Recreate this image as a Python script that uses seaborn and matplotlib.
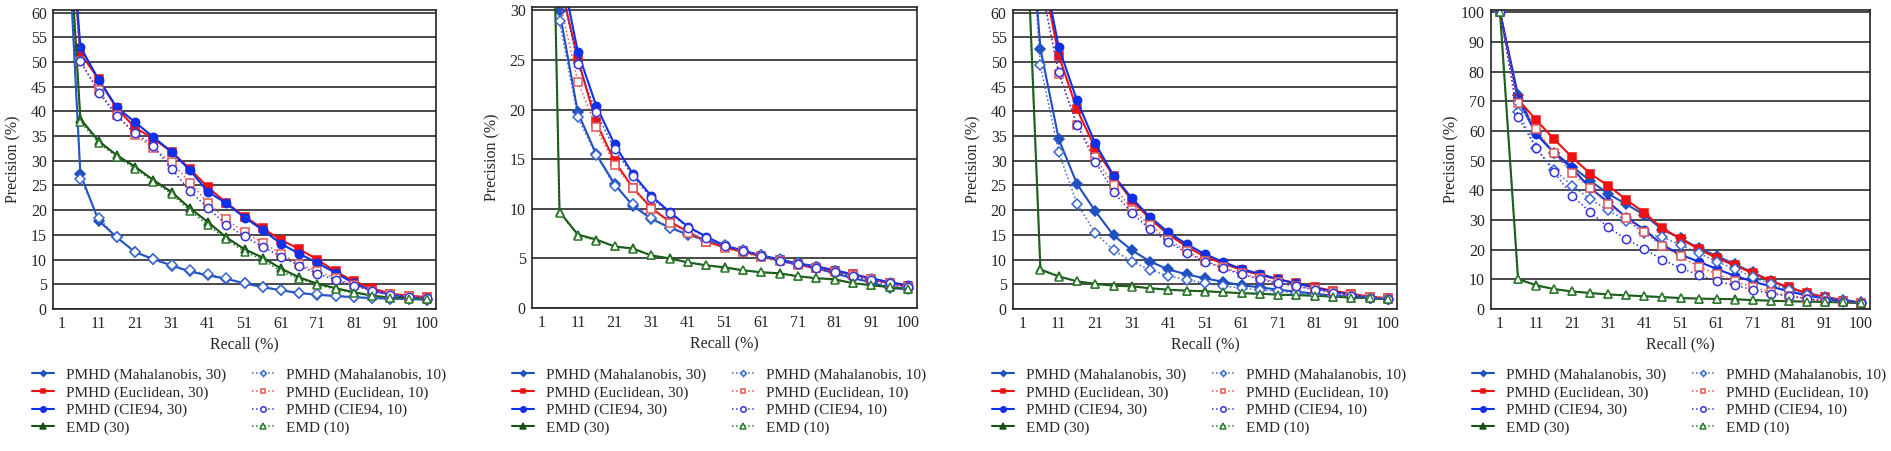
import numpy as np
import matplotlib
matplotlib.use("Agg")
import matplotlib.pyplot as plt
import seaborn as sns

sns.set_style("white")
plt.rcParams["font.family"] = ["Liberation Serif", "DejaVu Serif"]

# recall categories on the x axis (Excel-style category axis)
recall = [1, 6, 11, 16, 21, 26, 31, 36, 41, 46, 51, 56, 61, 66, 71, 76, 81, 86, 91, 96, 100]

series_names = ["PMHD (Mahalanobis, 30)", "PMHD (Euclidean, 30)", "PMHD (CIE94, 30)", "EMD (30)",
                "PMHD (Mahalanobis, 10)", "PMHD (Euclidean, 10)", "PMHD (CIE94, 10)", "EMD (10)"]

# panel 1
p1_maha30 = [100, 27.3, 17.9, 14.5, 11.5, 10.1, 8.8, 7.6, 6.8, 6.1, 5.2, 4.4, 3.8, 3.2, 2.9, 2.6, 2.4, 2.2, 2.1, 2.0, 1.9]
p1_eucl30 = [100, 51.8, 46.5, 40.6, 36.7, 34.5, 31.8, 28.4, 24.6, 21.5, 18.7, 16.3, 14.0, 12.1, 10.0, 7.6, 5.6, 4.2, 3.1, 2.7, 2.4]
p1_cie30 = [100, 53.1, 46.4, 40.8, 37.8, 34.8, 31.8, 28.1, 23.7, 21.4, 18.5, 16.0, 13.2, 11.2, 9.3, 7.3, 5.2, 3.7, 2.9, 2.4, 2.1]
p1_emd30 = [100, 38.5, 34.0, 31.1, 28.8, 26.1, 23.7, 20.4, 17.6, 14.5, 12.1, 10.4, 8.2, 6.4, 5.1, 4.2, 3.4, 2.7, 2.3, 2.2, 2.0]
p1_maha10 = [100, 26.4, 18.4, 14.5, 11.6, 10.2, 8.9, 7.8, 7.0, 6.3, 5.2, 4.5, 3.8, 3.3, 3.0, 2.7, 2.4, 2.2, 2.1, 2.0, 1.9]
p1_eucl10 = [100, 50.1, 44.3, 39.2, 35.3, 32.5, 29.7, 25.6, 21.5, 18.2, 15.5, 13.4, 11.2, 9.1, 7.6, 6.3, 4.8, 3.7, 3.0, 2.6, 2.3]
p1_cie10 = [100, 50.2, 43.8, 39.1, 35.7, 33.0, 28.4, 23.9, 20.4, 17.1, 14.7, 12.6, 10.6, 8.8, 7.1, 5.9, 4.7, 3.7, 2.9, 2.4, 2.2]
p1_emd10 = [100, 37.9, 33.6, 30.8, 28.4, 25.8, 23.3, 19.9, 17.0, 14.1, 11.6, 10.0, 7.6, 6.1, 4.9, 4.0, 3.2, 2.7, 2.3, 2.1, 2.0]

# panel 2
p2_maha30 = [100, 29.9, 19.7, 15.5, 12.5, 10.3, 9.0, 8.1, 7.4, 6.8, 6.2, 5.7, 5.3, 4.8, 4.4, 4.0, 3.5, 3.0, 2.6, 2.0, 1.9]
p2_eucl30 = [100, 33.0, 25.1, 18.7, 14.8, 12.1, 10.1, 8.7, 7.7, 6.7, 6.1, 5.7, 5.2, 4.8, 4.4, 4.0, 3.7, 3.4, 2.9, 2.5, 2.2]
p2_cie30 = [100, 35.0, 25.8, 20.4, 16.5, 13.5, 11.3, 9.7, 8.2, 7.2, 6.3, 5.8, 5.3, 4.9, 4.5, 4.2, 3.8, 3.4, 3.0, 2.6, 2.3]
p2_emd30 = [100, 9.7, 7.4, 6.9, 6.2, 6.0, 5.3, 5.0, 4.6, 4.3, 4.1, 3.8, 3.6, 3.5, 3.2, 3.0, 2.9, 2.5, 2.3, 2.1, 1.95]
p2_maha10 = [100, 28.9, 19.2, 15.4, 12.3, 10.5, 9.1, 8.1, 7.5, 6.9, 6.3, 5.8, 5.3, 4.9, 4.5, 4.1, 3.7, 3.2, 2.7, 2.3, 2.0]
p2_eucl10 = [100, 31.0, 22.8, 18.2, 14.4, 12.1, 10.0, 8.6, 7.6, 6.7, 6.0, 5.6, 5.1, 4.7, 4.3, 4.0, 3.6, 3.3, 2.9, 2.5, 2.1]
p2_cie10 = [100, 33.0, 24.6, 19.7, 16.0, 13.3, 11.1, 9.6, 8.1, 7.1, 6.2, 5.7, 5.2, 4.7, 4.4, 4.0, 3.6, 3.2, 2.8, 2.5, 2.1]
p2_emd10 = [100, 9.6, 7.3, 6.8, 6.2, 5.9, 5.3, 4.9, 4.6, 4.3, 4.0, 3.8, 3.6, 3.4, 3.2, 3.0, 2.8, 2.5, 2.3, 2.1, 1.9]

# panel 3
p3_maha30 = [100, 52.7, 34.4, 25.3, 19.8, 14.9, 11.9, 9.6, 8.0, 7.0, 6.2, 5.5, 4.8, 4.4, 3.9, 3.5, 3.1, 2.7, 2.5, 2.2, 2.0]
p3_eucl30 = [100, 70.0, 51.3, 40.4, 32.5, 26.9, 22.0, 18.2, 15.1, 12.6, 10.6, 9.2, 7.9, 6.9, 6.0, 5.2, 4.4, 3.7, 3.1, 2.5, 2.2]
p3_cie30 = [100, 72.0, 53.0, 42.2, 33.5, 27.0, 22.4, 18.6, 15.5, 13.1, 11.1, 9.5, 8.1, 7.1, 6.0, 5.2, 4.3, 3.5, 2.9, 2.3, 2.1]
p3_emd30 = [100, 8.0, 6.6, 5.6, 5.1, 4.7, 4.6, 4.2, 3.9, 3.7, 3.6, 3.4, 3.2, 3.1, 2.9, 2.8, 2.7, 2.5, 2.3, 2.2, 2.0]
p3_maha10 = [100, 49.3, 31.7, 21.3, 15.4, 11.9, 9.6, 7.9, 6.7, 5.9, 5.2, 4.7, 4.2, 3.9, 3.6, 3.2, 2.9, 2.7, 2.4, 2.2, 2.0]
p3_eucl10 = [100, 66.0, 47.6, 37.3, 30.7, 25.0, 20.1, 17.0, 13.9, 11.8, 9.7, 8.4, 7.2, 6.2, 5.4, 4.7, 4.0, 3.4, 2.9, 2.5, 2.1]
p3_cie10 = [100, 66.0, 47.9, 37.3, 29.8, 23.7, 19.4, 16.1, 13.5, 11.4, 9.6, 8.2, 7.0, 6.0, 5.2, 4.6, 3.9, 3.2, 2.7, 2.3, 2.1]
p3_emd10 = [100, 7.9, 6.5, 5.6, 5.0, 4.7, 4.5, 4.2, 3.9, 3.7, 3.5, 3.4, 3.2, 3.0, 2.9, 2.8, 2.6, 2.5, 2.3, 2.2, 2.0]

# panel 4
p4_maha30 = [100, 72.1, 59.2, 52.7, 48.0, 43.2, 38.8, 35.3, 31.7, 26.7, 23.9, 20.5, 17.9, 15.1, 12.3, 9.5, 7.1, 5.4, 4.0, 3.1, 2.2]
p4_eucl30 = [100, 70.6, 63.7, 57.2, 51.1, 45.6, 41.5, 36.8, 32.4, 27.2, 23.7, 20.2, 17.2, 14.7, 12.1, 9.5, 7.3, 5.4, 3.9, 2.8, 2.0]
p4_cie30 = [100, 70.6, 59.0, 52.5, 47.4, 40.7, 36.0, 30.9, 26.7, 21.6, 18.3, 16.0, 13.5, 11.2, 9.3, 7.6, 5.9, 4.6, 3.5, 2.6, 2.0]
p4_emd30 = [100, 10.1, 8.0, 6.7, 5.9, 5.4, 4.9, 4.6, 4.3, 4.0, 3.7, 3.5, 3.4, 3.3, 3.0, 2.8, 2.6, 2.5, 2.4, 2.2, 2.0]
p4_maha10 = [100, 66.5, 54.1, 46.9, 41.5, 37.0, 33.2, 29.8, 25.6, 24.2, 21.6, 18.8, 16.0, 13.5, 10.8, 8.4, 6.5, 4.8, 3.7, 2.8, 2.0]
p4_eucl10 = [100, 69.5, 60.5, 52.5, 45.7, 40.7, 35.3, 30.6, 25.8, 21.1, 17.7, 14.3, 11.8, 9.3, 7.4, 5.7, 4.5, 3.5, 2.6, 2.2, 2.0]
p4_cie10 = [100, 64.6, 54.4, 46.1, 38.1, 32.7, 27.5, 23.5, 20.2, 16.6, 13.8, 11.5, 9.3, 8.0, 6.5, 5.2, 4.3, 3.5, 2.8, 2.4, 2.0]
p4_emd10 = [100, 10.0, 7.9, 6.7, 5.9, 5.3, 4.9, 4.6, 4.3, 4.0, 3.7, 3.5, 3.4, 3.2, 3.0, 2.8, 2.6, 2.5, 2.3, 2.2, 2.0]

panels = [
    [p1_maha30, p1_eucl30, p1_cie30, p1_emd30, p1_maha10, p1_eucl10, p1_cie10, p1_emd10],
    [p2_maha30, p2_eucl30, p2_cie30, p2_emd30, p2_maha10, p2_eucl10, p2_cie10, p2_emd10],
    [p3_maha30, p3_eucl30, p3_cie30, p3_emd30, p3_maha10, p3_eucl10, p3_cie10, p3_emd10],
    [p4_maha30, p4_eucl30, p4_cie30, p4_emd30, p4_maha10, p4_eucl10, p4_cie10, p4_emd10],
]
y_max = [60, 30, 60, 100]
y_step = [5, 5, 5, 10]

# line styles for the 8 series
colors = ["#1f4fc0", "#ee1111", "#1030e8", "#165216", "#3a66d0", "#e05a5a", "#3535d8", "#2c7a2c"]
markers = ["D", "s", "o", "^", "D", "s", "o", "^"]
msizes = [4.6, 5.4, 6.0, 5.8, 4.6, 5.4, 6.0, 5.8]
filled = [True, True, True, True, False, False, False, False]

W, H = 1891, 451
fig = plt.figure(figsize=(W / 100, H / 100), dpi=100)

# axes boxes in pixels: left, right, top, bottom
boxes = [(53, 436, 10, 309), (532, 917, 7, 308), (1013, 1397, 10, 309), (1491, 1870, 10, 309)]
legend_x = [32, 512, 992, 1472]

xpos = np.arange(len(recall))

for k, (l, r, t, b) in enumerate(boxes):
    ax = fig.add_axes([l / W, (H - b) / H, (r - l) / W, (b - t) / H])
    for j, vals in enumerate(panels[k]):
        sns.lineplot(x=xpos, y=vals, ax=ax, color=colors[j], marker=markers[j],
                     markersize=msizes[j], linewidth=1.5 if filled[j] else 1.1,
                     linestyle="-" if filled[j] else ":",
                     markerfacecolor=colors[j] if filled[j] else "white",
                     markeredgecolor=colors[j], markeredgewidth=1.1,
                     label=series_names[j], legend=False)
    ymax = y_max[k]
    ax.set_xlim(-0.5, len(recall) - 0.5)
    ax.set_ylim(0, ymax * 1.006 + 0.15)
    ax.set_yticks(np.arange(0, ymax + 1, y_step[k]))
    ax.yaxis.grid(True, color="#3c3c3c", linewidth=1.3)
    ax.set_axisbelow(True)
    # category boundaries get the small inward ticks, labels sit on the categories
    ax.set_xticks(xpos[:-1] + 0.5)
    ax.set_xticklabels([])
    ax.set_xticks(xpos[::2], minor=True)
    ax.set_xticklabels([str(v) for v in recall[::2]], minor=True)
    ax.tick_params(axis="x", which="major", direction="in", length=3.5, width=1, color="#222222")
    ax.tick_params(axis="x", which="minor", length=0, pad=5, labelsize=11.5)
    ax.tick_params(axis="y", length=0, pad=4.5, labelsize=11.5)
    for sp in ax.spines.values():
        sp.set_visible(True)
        sp.set_color("#222222")
        sp.set_linewidth(1.2)
    ax.set_xlabel("Recall (%)", fontsize=11.5)
    ax.set_ylabel("Precision (%)", fontsize=11.5)
    wpx, hpx = r - l, b - t
    ax.yaxis.set_label_coords(-32 / wpx, 0.5)
    ax.xaxis.set_label_coords(0.5, -27 / hpx)

    handles, labels = ax.get_legend_handles_labels()
    lx = legend_x[k]
    leg_kw = dict(loc="upper left", bbox_transform=fig.transFigure, frameon=False, fontsize=11,
                  handlelength=1.45, handletextpad=0.75, labelspacing=0.25, borderpad=0,
                  borderaxespad=0, markerscale=0.65)
    leg1 = ax.legend(handles[:4], labels[:4], bbox_to_anchor=(lx / W, (H - 368) / H), **leg_kw)
    ax.add_artist(leg1)
    ax.legend(handles[4:], labels[4:], bbox_to_anchor=((lx + 220) / W, (H - 368) / H), **leg_kw)

fig.savefig("out.png", dpi=100)
